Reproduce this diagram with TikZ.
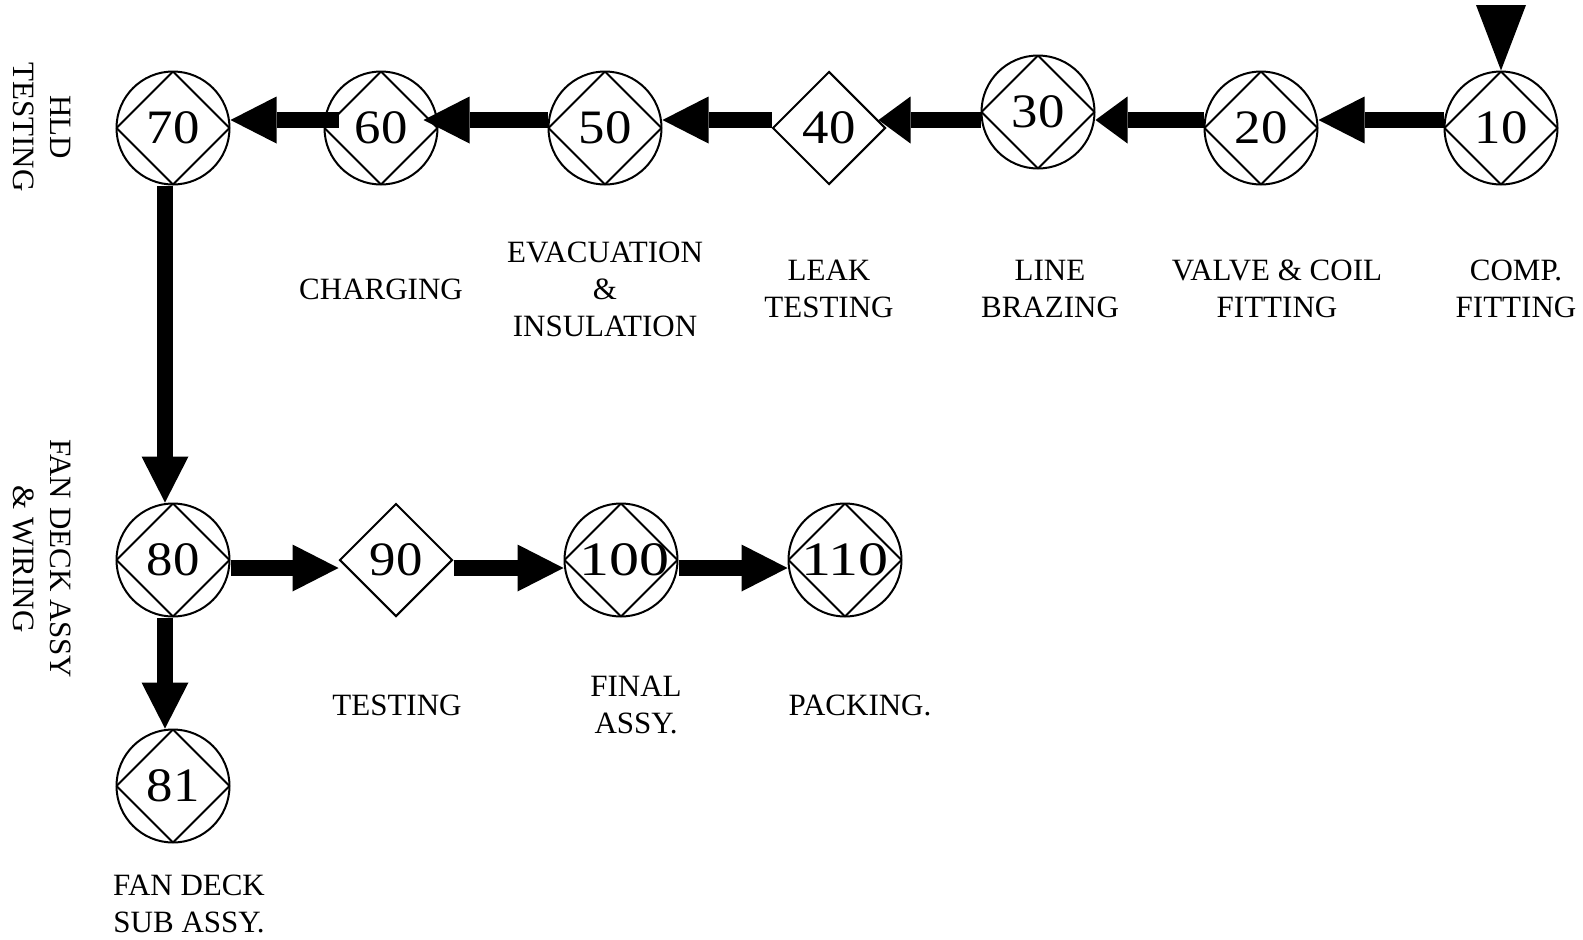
\documentclass[tikz,border=0pt]{standalone}
\usepackage{fontspec}
\setmainfont{Liberation Serif}
\usetikzlibrary{arrows.meta,shapes.geometric}
\tikzset{
  opcirc/.style={circle, draw, line width=2pt, minimum size=113pt, inner sep=0pt,
    font=\fontsize{48}{50}\selectfont,
    path picture={\draw[line width=2pt] (path picture bounding box.north) -- (path picture bounding box.east)
      -- (path picture bounding box.south) -- (path picture bounding box.west) -- cycle;}},
  opdiam/.style={diamond, draw, line width=2pt, minimum width=113pt, minimum height=113pt, inner sep=0pt,
    font=\fontsize{48}{50}\selectfont},
  steplabel/.style={align=center, font=\fontsize{31}{37}\selectfont, inner sep=0pt},
  bigarrow/.style={line width=16pt, -{Triangle[length=46pt,width=47pt,line width=0pt]}},
  shortarrow/.style={line width=16pt, -{Triangle[length=32pt,width=47pt,line width=0pt]}},
}
\newcommand\wideno[2]{\scalebox{#1}[1]{#2}}
\begin{document}
\begin{tikzpicture}[x=1pt,y=-1pt]
\useasboundingbox (0,0) rectangle (1583,940);
% top row
\node[opcirc] (n10) at (1501,128) {\wideno{1.1}{10}};
\node[opcirc] (n20) at (1261,128) {\wideno{1.1}{20}};
\node[opcirc] (n30) at (1038,112) {\wideno{1.1}{30}};
\node[opdiam] (n40) at (829,128) {\wideno{1.1}{40}};
\node[opcirc] (n50) at (605,128) {\wideno{1.1}{50}};
\node[opcirc] (n60) at (381,128) {\wideno{1.1}{60}};
\node[opcirc] (n70) at (173,128) {\wideno{1.1}{70}};
% bottom row
\node[opcirc] (n80) at (173,560) {\wideno{1.1}{80}};
\node[opdiam] (n90) at (396,560) {\wideno{1.1}{90}};
\node[opcirc] (n100) at (621,560) {\hspace{6pt}\wideno{1.25}{100}};
\node[opcirc] (n110) at (845,560) {\wideno{1.25}{110}};
\node[opcirc] (n81) at (173,786) {\wideno{1.1}{81}};
% input triangle
\coordinate (in10) at (1501,5);
\fill ([xshift=-25pt]in10) -- ([xshift=25pt]in10) -- (n10.north) -- cycle;
% connectors
\draw[bigarrow] ([yshift=8pt]n10.west) -- ([yshift=8pt]n20.east);
\draw[shortarrow] ([yshift=8pt]n20.west) -- ([yshift=-8pt]n30.east);
\draw[shortarrow] ([yshift=-8pt]n30.west) -- ([shift={(-8pt,8pt)}]n40.east);
\draw[bigarrow] ([yshift=8pt]n40.west) -- ([yshift=8pt]n50.east);
\draw[bigarrow] ([yshift=8pt]n50.west) -- ([shift={(-15pt,8pt)}]n60.east);
\draw[bigarrow] ([shift={(15pt,8pt)}]n60.west) -- ([yshift=8pt]n70.east);
\draw[bigarrow] ([xshift=-8pt]n70.south) -- ([xshift=-8pt]n80.north);
\draw[bigarrow] ([xshift=-8pt]n80.south) -- ([xshift=-8pt]n81.north);
\draw[bigarrow] ([yshift=-8pt]n80.east) -- ([yshift=-8pt]n90.west);
\draw[bigarrow] ([yshift=-8pt]n90.east) -- ([yshift=-8pt]n100.west);
\draw[bigarrow] ([yshift=-8pt]n100.east) -- ([yshift=-8pt]n110.west);
% labels
\node[steplabel] (l10) at (1516,289) {COMP.\\FITTING};
\node[steplabel] (l20) at (1277,289) {VALVE \& COIL\\FITTING};
\node[steplabel] (l30) at (1050,289) {LINE\\BRAZING};
\node[steplabel] (l40) at (829,289) {LEAK\\TESTING};
\node[steplabel] (l50) at (605,289) {EVACUATION\\\&\\INSULATION};
\node[steplabel] (l60) at (381,289) {CHARGING};
\node[steplabel, rotate=-90] (l70) at (42,127) {HLD\\TESTING};
\node[steplabel, rotate=-90] (l80) at (42,559) {FAN DECK ASSY\\\& WIRING};
\node[steplabel] (l90) at (397,705) {TESTING};
\node[steplabel] (l100) at (636,705) {FINAL\\ASSY.};
\node[steplabel] (l110) at (860,705) {PACKING.};
\node[steplabel] (l81) at (189,904) {FAN DECK\\SUB ASSY.};
\end{tikzpicture}
\end{document}
